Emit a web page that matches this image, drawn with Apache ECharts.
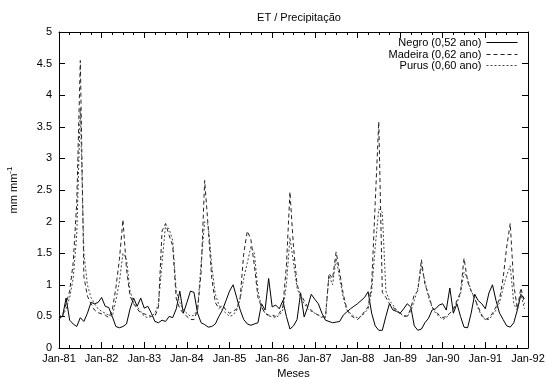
<!DOCTYPE html>
<html>
<head>
<meta charset="utf-8">
<script src="https://cdn.jsdelivr.net/npm/echarts@6/dist/echarts.min.js"></script>
<style>
html,body{margin:0;padding:0;background:#fff;}
#c{width:547px;height:377px;}
</style>
</head>
<body>
<div id="c"></div>
<script>
// Tick labels on the x axis (every 12 months, starting Jan-81)
var tickLabels = ['Jan-81','Jan-82','Jan-83','Jan-84','Jan-85','Jan-86','Jan-87','Jan-88','Jan-89','Jan-90','Jan-91','Jan-92'];
var seriesNames = ['Negro (0,52 ano)', 'Madeira (0,62 ano)', 'Purus (0,60 ano)'];

// Monthly values, Jan-81 .. Dec-91
var negro = [
  0.48,0.50,0.79,0.44,0.38,0.34,0.48,0.42,0.55,0.72,0.70,0.72,
  0.80,0.66,0.64,0.50,0.34,0.32,0.34,0.38,0.62,0.79,0.66,0.79,
  0.63,0.66,0.55,0.42,0.40,0.44,0.42,0.50,0.48,0.62,0.90,0.55,
  0.72,0.90,0.88,0.55,0.40,0.37,0.33,0.34,0.38,0.50,0.60,0.75,
  0.90,1.00,0.80,0.60,0.45,0.38,0.36,0.38,0.40,0.70,0.60,1.10,
  0.65,0.68,0.62,0.75,0.50,0.30,0.35,0.45,0.87,0.49,0.65,0.85,
  0.77,0.70,0.55,0.44,0.42,0.40,0.41,0.42,0.52,0.57,0.62,0.66,
  0.70,0.75,0.80,0.89,0.55,0.35,0.28,0.28,0.50,0.70,0.60,0.58,
  0.55,0.62,0.70,0.65,0.35,0.28,0.30,0.40,0.47,0.60,0.62,0.68,
  0.70,0.60,0.95,0.55,0.70,0.50,0.33,0.32,0.55,0.85,0.75,0.70,
  0.62,0.87,1.00,0.75,0.55,0.45,0.35,0.33,0.40,0.60,0.85,0.78
];
var madeira = [
  0.45,0.52,0.70,0.90,1.35,2.30,4.55,1.13,0.82,0.70,0.60,0.56,
  0.54,0.52,0.48,0.60,0.95,1.40,2.03,1.25,0.82,0.70,0.62,0.55,
  0.54,0.52,0.50,0.50,0.65,1.85,1.97,1.78,1.62,0.78,0.62,0.55,
  0.50,0.45,0.45,0.60,1.20,2.65,1.90,1.10,0.72,0.62,0.68,0.60,
  0.55,0.58,0.62,0.80,1.50,1.85,1.72,1.30,0.80,0.65,0.55,0.52,
  0.52,0.50,0.55,0.65,1.30,2.47,1.60,1.00,0.85,0.75,0.65,0.60,
  0.55,0.52,0.50,0.48,1.18,1.10,1.52,1.20,0.85,0.62,0.52,0.48,
  0.45,0.50,0.58,0.65,1.00,2.30,3.58,0.88,0.80,0.70,0.65,0.58,
  0.55,0.52,0.50,0.62,0.85,0.90,1.40,1.00,0.85,0.65,0.58,0.52,
  0.48,0.50,0.55,0.62,0.75,0.88,1.42,1.05,0.90,0.78,0.65,0.52,
  0.45,0.48,0.55,0.65,0.78,1.10,1.60,1.97,1.00,0.62,0.95,0.70
];
var purus = [
  0.52,0.50,0.62,0.80,1.10,1.80,3.80,1.50,1.00,0.80,0.70,0.62,
  0.58,0.55,0.52,0.50,0.75,1.05,1.50,1.40,0.90,0.72,0.65,0.58,
  0.50,0.48,0.50,0.55,0.70,1.35,1.95,1.88,1.70,0.90,0.72,0.60,
  0.55,0.50,0.52,0.60,1.35,2.00,1.95,1.30,0.85,0.68,0.60,0.55,
  0.50,0.52,0.60,0.78,1.10,1.35,1.60,1.50,0.90,0.65,0.55,0.50,
  0.50,0.48,0.52,0.60,1.00,1.75,1.35,0.95,0.80,0.70,0.62,0.58,
  0.55,0.52,0.48,0.50,1.15,1.00,1.42,1.10,0.80,0.60,0.55,0.50,
  0.48,0.50,0.55,0.62,0.90,1.60,2.20,2.15,0.90,0.75,0.68,0.60,
  0.55,0.50,0.50,0.58,0.75,0.95,1.30,1.05,0.80,0.65,0.55,0.50,
  0.45,0.48,0.55,0.60,0.72,0.85,1.20,1.10,0.90,0.80,0.62,0.50,
  0.45,0.45,0.52,0.60,0.72,0.95,1.15,1.30,0.70,0.60,0.85,0.62
];

function pairs(arr){ return arr.map(function(v,i){ return [i, v]; }); }

var FONT = 'Liberation Sans, Arial, sans-serif';
var chart = echarts.init(document.getElementById('c'), null, {renderer:'canvas'});

var axisCommon = {
  axisLine: {show:true, onZero:false, lineStyle:{color:'#000', width:1}},
  axisTick: {show:true, inside:true, length:6, lineStyle:{color:'#000'}},
  splitLine: {show:false}
};

function legendFor(name, top){
  return {
    data:[name], orient:'horizontal', align:'right', right:29, top:top,
    padding:0, itemWidth:31, itemHeight:10, selectedMode:false,
    itemStyle:{color:'rgba(0,0,0,0)', borderWidth:0, opacity:0},
    lineStyle:{width:1},
    textStyle:{fontFamily:FONT, fontSize:11, color:'#000'}
  };
}

chart.setOption({
  animation:false,
  backgroundColor:'#fff',
  title:{
    text:'ET / Precipitação', left:294, top:7, textAlign:'center',
    textStyle:{fontFamily:FONT, fontSize:11, fontWeight:'normal', color:'#000'}
  },
  legend:[legendFor(seriesNames[0],37), legendFor(seriesNames[1],49), legendFor(seriesNames[2],60)],
  grid:{left:59, right:19, top:32, bottom:29, outerBoundsMode:'none', containLabel:false},
  xAxis:[
    Object.assign({}, axisCommon, {
      type:'value', min:0, max:132, interval:12, position:'bottom',
      name:'Meses', nameLocation:'middle', nameGap:19,
      nameTextStyle:{fontFamily:FONT, fontSize:11, color:'#000'},
      minorTick:{show:true, splitNumber:4, length:3, lineStyle:{color:'#000'}},
      axisLabel:{fontFamily:FONT, fontSize:11, color:'#000', margin:5,
        formatter:function(v){ return tickLabels[Math.round(v/12)]; }}
    }),
    Object.assign({}, axisCommon, {
      type:'value', min:0, max:132, interval:12, position:'top',
      minorTick:{show:true, splitNumber:4, length:3, lineStyle:{color:'#000'}},
      axisLabel:{show:false}
    })
  ],
  yAxis:[
    Object.assign({}, axisCommon, {
      type:'value', min:0, max:5, interval:0.5, position:'left',
      name:'mm mm{sup|-1}', nameLocation:'middle', nameGap:37, nameRotate:90,
      nameTextStyle:{fontFamily:FONT, fontSize:11, color:'#000',
        rich:{sup:{fontFamily:FONT, fontSize:8, color:'#000', padding:[0,0,8,0]}}},
      axisLabel:{fontFamily:FONT, fontSize:11, color:'#000', margin:7}
    }),
    Object.assign({}, axisCommon, {
      type:'value', min:0, max:5, interval:0.5, position:'right',
      axisLabel:{show:false}
    })
  ],
  series:[
    {name:seriesNames[0], type:'line', data:pairs(negro), symbol:'none',
     color:'#000', lineStyle:{color:'#000', width:1, type:'solid'}},
    {name:seriesNames[1], type:'line', data:pairs(madeira), symbol:'none',
     color:'#222', lineStyle:{color:'#222', width:1, type:[4,3]}},
    {name:seriesNames[2], type:'line', data:pairs(purus), symbol:'none',
     color:'#444', lineStyle:{color:'#444', width:1, type:[2,2]}}
  ]
});
</script>
</body>
</html>
